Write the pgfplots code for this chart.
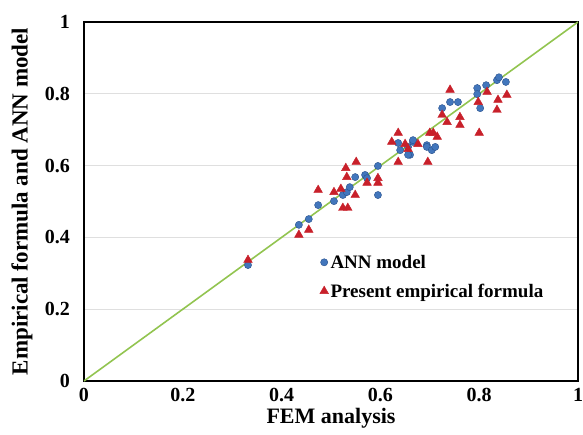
\documentclass[border=0pt]{standalone}
\usepackage{pgfplots}
\pgfplotsset{compat=1.18}
\usepackage{fontspec}
\setmainfont{Liberation Serif}
\definecolor{linegreen}{RGB}{146,196,80}
\definecolor{annblue}{RGB}{66,118,188}
\definecolor{annedge}{RGB}{40,80,140}
\definecolor{empred}{RGB}{200,32,42}
\begin{document}
\begin{tikzpicture}
\begin{axis}[
  name=ax,
  scale only axis,
  width=494pt, height=359pt,
  xmin=0, xmax=1, ymin=0, ymax=1,
  xtick={0,0.2,0.4,0.6,0.8,1},
  ytick={0,0.2,0.4,0.6,0.8,1},
  xticklabels={0,0.2,0.4,0.6,0.8,1},
  yticklabels={0,0.2,0.4,0.6,0.8,1},
  major tick length=0pt,
  axis line style={black, line width=1.5pt},
  ymajorgrids,
  grid style={gray!25, line width=0.8pt},
  tick label style={font=\fontsize{20}{22}\selectfont\bfseries, inner sep=0pt},
  xticklabel style={anchor=center, yshift=-14pt},
  yticklabel style={anchor=east, xshift=-14pt},
  xlabel={FEM analysis},
  ylabel={Empirical formula and ANN model},
  xlabel style={font=\fontsize{22}{24}\selectfont\bfseries, inner sep=0pt, at={(axis description cs:0.5,-0.104)}, anchor=center},
  ylabel style={font=\fontsize{23}{25}\selectfont\bfseries, inner sep=0pt, at={(axis description cs:-0.1255,0.5)}, anchor=center},
  legend style={at={(0.475,0.36)}, anchor=north west, draw=none, fill=none,
    font=\fontsize{19}{21}\selectfont\bfseries, row sep=10pt, inner sep=1pt},
  legend cell align=left,
]
\addplot[linegreen, line width=1.6pt, forget plot] coordinates {(0,0) (1,1)};
\addplot[only marks, mark=*, mark size=3.6pt, draw=annedge, fill=annblue] coordinates {
(0.332,0.323) (0.435,0.435) (0.455,0.451) (0.474,0.490) (0.506,0.501)
(0.524,0.518) (0.532,0.526) (0.538,0.540) (0.549,0.568) (0.569,0.574)
(0.573,0.565) (0.595,0.599) (0.595,0.518) (0.636,0.663) (0.640,0.643)
(0.660,0.630) (0.666,0.666) (0.694,0.657) (0.656,0.652) (0.656,0.630)
(0.666,0.671) (0.694,0.652) (0.704,0.643) (0.711,0.652) (0.725,0.760)
(0.741,0.777) (0.757,0.777) (0.796,0.816) (0.802,0.760) (0.814,0.824)
(0.836,0.838) (0.840,0.846) (0.854,0.833) (0.796,0.799)
};
\addlegendentry{ANN model}
\addplot[only marks, mark=triangle*, mark size=5pt, draw=empred, fill=empred] coordinates {
(0.332,0.337) (0.435,0.407) (0.455,0.421) (0.474,0.532) (0.506,0.526)
(0.524,0.482) (0.534,0.482) (0.530,0.593) (0.551,0.610) (0.532,0.568)
(0.549,0.518) (0.520,0.535) (0.573,0.552) (0.595,0.565) (0.595,0.552)
(0.636,0.691) (0.623,0.666) (0.636,0.610) (0.656,0.646) (0.700,0.691)
(0.696,0.610) (0.707,0.691) (0.715,0.680) (0.741,0.811) (0.725,0.741)
(0.735,0.721) (0.761,0.735) (0.761,0.713) (0.798,0.777) (0.800,0.691)
(0.816,0.805) (0.836,0.755) (0.838,0.783) (0.856,0.797) (0.676,0.660)
(0.650,0.660)
};
\addlegendentry{Present empirical formula}
\end{axis}
\pgfresetboundingbox
\path[use as bounding box] ([shift={(-84pt,-53pt)}]ax.south west) rectangle ([shift={(5pt,22pt)}]ax.north east);
\end{tikzpicture}
\end{document}
